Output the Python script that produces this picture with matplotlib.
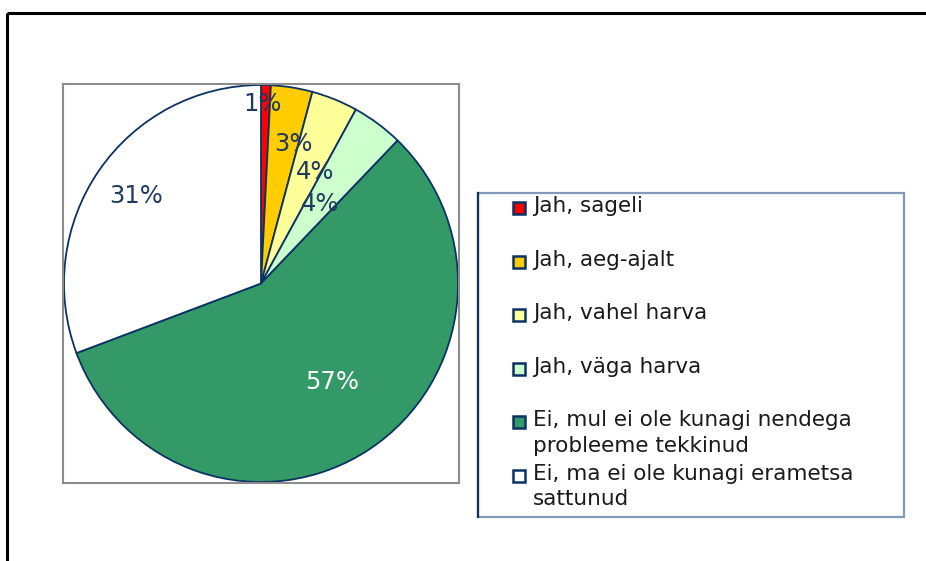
import matplotlib.pyplot as plt
import numpy as np
import matplotlib.patches as mpatches

# answers and shares (%)
labels = ['Jah, sageli', 'Jah, aeg-ajalt', 'Jah, vahel harva', 'Jah, väga harva',
          'Ei, mul ei ole kunagi nendega\nprobleeme tekkinud',
          'Ei, ma ei ole kunagi erametsa\nsattunud']
shares = [0.8, 3.4, 3.8, 4.2, 57.1, 30.7]
pct_text = ['1%', '3%', '4%', '4%', '57%', '31%']

colors = ['#FF0000', '#FFCC00', '#FFFF99', '#CCFFCC', '#339966', '#FFFFFF']
navy = '#0B3265'
txt_navy = '#1F3A60'

fig = plt.figure(figsize=(9.26, 5.61), dpi=100)

# pie inside gray plot-area box
ax = fig.add_axes([63/926, 1-483/561, 396/926, 399/561])
wedges, _ = ax.pie(shares, colors=colors, startangle=90, counterclock=False,
                   radius=0.995, frame=True,
                   wedgeprops=dict(edgecolor=navy, linewidth=1.3))
for w in wedges:
    w.set_clip_on(False)
ax.set_xlim(-1, 1)
ax.set_ylim(-1, 1)
ax.set_aspect('auto')
ax.set_xticks([])
ax.set_yticks([])
for s in ax.spines.values():
    s.set_visible(True)
    s.set_color('#8C8C8C')
    s.set_linewidth(1.5)

# percentage labels (Excel moved the small ones a bit)
dists = [0.9, 0.72, 0.62, 0.5, 0.61, 0.77]
shift = [-1.0, 4.0, 4.0, 0.5, -3.0, 0.0]
for w, t, d, sh in zip(wedges, pct_text, dists, shift):
    mid = np.deg2rad((w.theta1 + w.theta2) / 2 - sh)
    c = 'white' if t == '57%' else txt_navy
    ax.text(d*np.cos(mid), d*np.sin(mid), t, ha='center', va='center',
            fontsize=17.5, color=c)

# overlay in pixel coordinates for frame and legend
ov = fig.add_axes([0, 0, 1, 1], zorder=-1)
ov.set_xlim(0, 926)
ov.set_ylim(561, 0)
ov.axis('off')
ov.plot([7, 926], [13, 13], color='black', linewidth=2.2, solid_capstyle='butt')
ov.plot([7, 7], [13, 561], color='black', linewidth=2.2, solid_capstyle='butt')

lg = fig.add_axes([0, 0, 1, 1], zorder=2)
lg.set_xlim(0, 926)
lg.set_ylim(561, 0)
lg.axis('off')
lg.patch.set_alpha(0)
lg.add_patch(mpatches.Rectangle((478, 193), 426, 324, facecolor='none',
                                edgecolor='#7F9BB8', linewidth=1.6))
lg.plot([478, 478], [193, 517], color=navy, linewidth=1.6)

row_y = 208
for lab, col in zip(labels, colors):
    lg.add_patch(mpatches.Rectangle((513, row_y - 6), 12, 12, facecolor=col,
                                    edgecolor=navy, linewidth=1.8))
    lg.text(533, row_y - 12, lab, ha='left', va='top', fontsize=15.5,
            color='#1A1A1A', linespacing=1.32)
    row_y += 53.6

fig.savefig('out.png', dpi=100)
